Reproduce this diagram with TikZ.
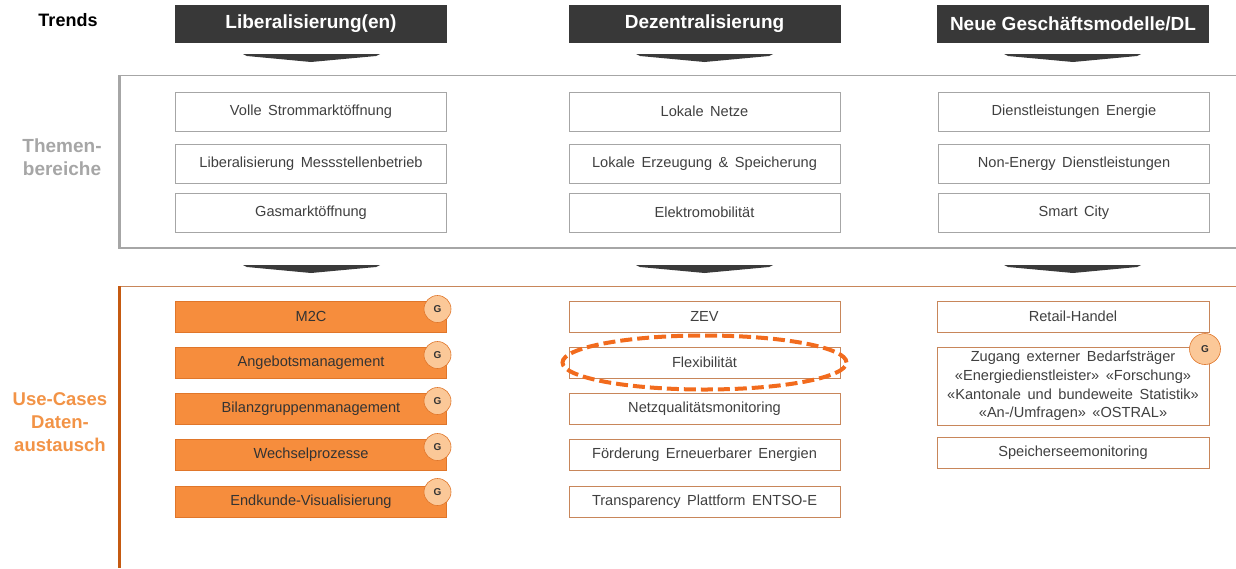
\documentclass[tikz,border=0pt]{standalone}
\usepackage{fontspec}
\setmainfont{Liberation Sans}[WordSpace=1.6, BoldFeatures={WordSpace=1}]
\definecolor{kopf}{HTML}{383838}
\definecolor{pfeil}{HTML}{3A3A3A}
\definecolor{grau}{HTML}{A6A6A6}
\definecolor{textgrau}{HTML}{404040}
\definecolor{orangefill}{HTML}{F68D3D}
\definecolor{orangerand}{HTML}{E0762A}
\definecolor{braun}{HTML}{C8865A}
\definecolor{linie}{HTML}{C55A11}
\definecolor{kreis}{HTML}{FBC898}
\definecolor{oval}{HTML}{F26B1D}
\definecolor{labelorange}{HTML}{F29346}
\tikzset{
  kopfbox/.style={fill=kopf, text=white, font=\bfseries\fontsize{19}{22}\selectfont, minimum width=272pt, minimum height=38pt, inner sep=0pt},
  themabox/.style={draw=grau, line width=0.8pt, fill=white, text=textgrau, font=\fontsize{14.6}{17}\selectfont, minimum width=271pt, minimum height=39pt, inner sep=0pt},
  ucorange/.style={draw=orangerand, line width=0.8pt, fill=orangefill, text=black!80, font=\fontsize{14.6}{17}\selectfont, minimum width=271pt, minimum height=31pt, inner sep=0pt},
  ucweiss/.style={draw=braun, line width=0.8pt, fill=white, text=textgrau, font=\fontsize{14.6}{17}\selectfont, minimum width=271pt, minimum height=31pt, inner sep=0pt},
  gkreis/.style={circle, draw=orangerand, line width=0.6pt, fill=kreis, minimum size=27pt, inner sep=0pt, font=\bfseries\fontsize{10}{12}\selectfont, text=black!80},
  chevron/.style={fill=pfeil, draw=none}
}
\begin{document}
\begin{tikzpicture}[x=1pt,y=-1pt]
  \useasboundingbox (0,0) rectangle (1236,568);
  % linke Beschriftungen
  \node[font=\bfseries\fontsize{18}{21}\selectfont] (trends) at (68,20) {Trends};
  \node[font=\bfseries\fontsize{19}{23}\selectfont, text=grau, align=center] (themen) at (62,157) {Themen-\\bereiche};
  \node[font=\bfseries\fontsize{18.5}{23}\selectfont, text=labelorange, align=center] (usecases) at (60,422) {Use-Cases\\Daten-\\austausch};
  % Trends
  \node[kopfbox] (lib) at (311,24) {Liberalisierung(en)};
  \node[kopfbox] (dez) at (704.5,24) {Dezentralisierung};
  \node[kopfbox] (neu) at (1073,24) {Neue Geschäftsmodelle/DL};
  % Pfeile
  \fill[chevron] (243,54) -- (380,54) -- (376,56) -- (311,62) -- (247,56) -- cycle;
  \fill[chevron] (636,54) -- (773,54) -- (769,56) -- (704.5,62) -- (640,56) -- cycle;
  \fill[chevron] (1004,54) -- (1141,54) -- (1137,56) -- (1073,62) -- (1008,56) -- cycle;
  \fill[chevron] (243,265) -- (380,265) -- (376,267) -- (311,273) -- (247,267) -- cycle;
  \fill[chevron] (636,265) -- (773,265) -- (769,267) -- (704.5,273) -- (640,267) -- cycle;
  \fill[chevron] (1004,265) -- (1141,265) -- (1137,267) -- (1073,273) -- (1008,267) -- cycle;
  % Rahmen Themenbereiche
  \draw[grau, line width=1.2pt] (118,75.5) -- (1236,75.5);
  \draw[grau, line width=2pt] (118,248) -- (1236,248);
  \draw[grau, line width=3pt] (119.5,75) -- (119.5,249);
  % Rahmen Use-Cases
  \draw[braun, line width=1pt] (118,286.5) -- (1236,286.5);
  \draw[linie, line width=3pt] (119.5,286) -- (119.5,568);
  % Themenbereiche
  \node[themabox] (vs) at (311,111.5) {Volle Strommarktöffnung};
  \node[themabox] (lm) at (311,163.5) {Liberalisierung Messstellenbetrieb};
  \node[themabox] (gm) at (311,212.5) {Gasmarktöffnung};
  \node[themabox] (ln) at (704.5,111.5) {Lokale Netze};
  \node[themabox] (le) at (704.5,163.5) {Lokale Erzeugung \& Speicherung};
  \node[themabox] (em) at (704.5,212.5) {Elektromobilität};
  \node[themabox] (de) at (1074,111.5) {Dienstleistungen Energie};
  \node[themabox] (ne) at (1074,163.5) {Non-Energy Dienstleistungen};
  \node[themabox] (sc) at (1074,212.5) {Smart City};
  % Use-Cases
  \node[ucorange] (m2c) at (311,316.5) {M2C};
  \node[ucorange] (ang) at (311,362.5) {Angebotsmanagement};
  \node[ucorange] (bil) at (311,408.5) {Bilanzgruppenmanagement};
  \node[ucorange] (wec) at (311,455) {Wechselprozesse};
  \node[ucorange] (end) at (311,501.5) {Endkunde-Visualisierung};
  \node[gkreis] (g1) at (437.5,309) {G};
  \node[gkreis] (g2) at (437.5,355) {G};
  \node[gkreis] (g3) at (437.5,401) {G};
  \node[gkreis] (g4) at (437.5,447) {G};
  \node[gkreis] (g5) at (437.5,492) {G};
  \node[ucweiss] (zev) at (704.5,316.5) {ZEV};
  \node[ucweiss] (flex) at (704.5,362.5) {Flexibilität};
  \node[ucweiss] (nqm) at (704.5,408.5) {Netzqualitätsmonitoring};
  \node[ucweiss] (fee) at (704.5,455) {Förderung Erneuerbarer Energien};
  \node[ucweiss] (tpe) at (704.5,501.5) {Transparency Plattform ENTSO-E};
  \draw[oval, line width=4pt, dash pattern=on 12pt off 5pt] (flex.center) ellipse [x radius=142pt, y radius=27pt];
  \node[ucweiss, minimum width=272pt] (ret) at (1073,316.5) {Retail-Handel};
  \node[ucweiss, minimum width=272pt, minimum height=78pt, align=center, font=\fontsize{14.6}{18.7}\selectfont] (zug) at (1073,386) {Zugang externer Bedarfsträger\\«Energiedienstleister» «Forschung»\\«Kantonale und bundeweite Statistik»\\«An-/Umfragen» «OSTRAL»};
  \node[gkreis, minimum size=31pt] (g6) at (1205,349) {G};
  \node[ucweiss, minimum width=272pt] (spe) at (1073,453) {Speicherseemonitoring};
\end{tikzpicture}
\end{document}
